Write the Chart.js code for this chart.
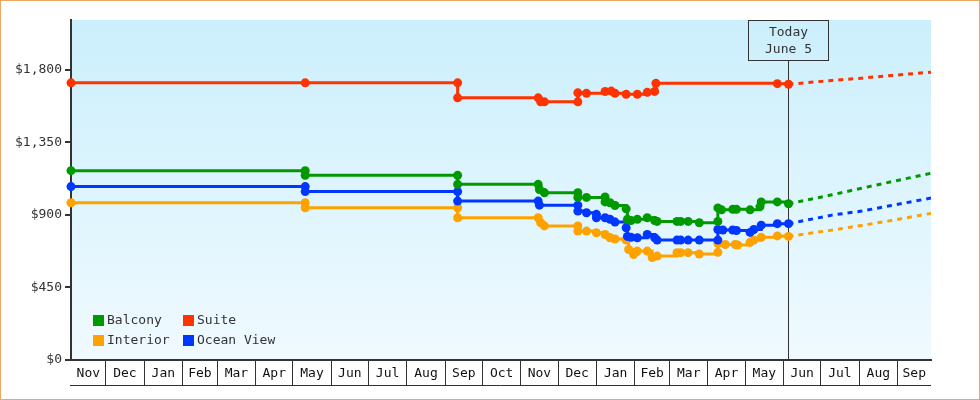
<!DOCTYPE html>
<html>
<head>
<meta charset="utf-8">
<script src="https://cdn.jsdelivr.net/npm/chart.js@4.4.0/dist/chart.umd.min.js"></script>
<style>
    html, body { margin: 0; padding: 0; background: #fff; }
    canvas { display: block; }
</style>
</head>
<body>
<canvas id="chart" width="980" height="400"></canvas>
<script>
const X_MIN = '2021-11-03'
const X_MAX = '2023-09-28'
const TODAY = '2023-06-05'
const TODAY_LABEL = ['Today', 'June 5']
const MONTH_NAMES = ['Jan', 'Feb', 'Mar', 'Apr', 'May', 'Jun', 'Jul', 'Aug', 'Sep', 'Oct', 'Nov', 'Dec']
const Y_TICKS = [0, 450, 900, 1350, 1800]
const Y_MAX = 2110

const suiteDates = ['2021-11-03', '2022-05-11', '2022-09-11', '2022-09-11', '2022-11-15', '2022-11-17', '2022-11-20', '2022-12-17', '2022-12-17', '2022-12-24', '2023-01-08', '2023-01-13', '2023-01-16', '2023-01-25', '2023-02-03', '2023-02-11', '2023-02-17', '2023-02-18', '2023-05-27', '2023-06-05']
const suitePrices = [1720, 1720, 1720, 1627, 1627, 1602, 1602, 1602, 1658, 1655, 1666, 1669, 1655, 1649, 1649, 1661, 1667, 1717, 1715, 1711]

const balconyDates = ['2021-11-03', '2022-05-11', '2022-05-11', '2022-09-11', '2022-09-11', '2022-11-15', '2022-11-16', '2022-11-20', '2022-12-17', '2022-12-17', '2022-12-24', '2023-01-08', '2023-01-08', '2023-01-12', '2023-01-16', '2023-01-25', '2023-01-26', '2023-01-29', '2023-02-03', '2023-02-11', '2023-02-17', '2023-02-19', '2023-03-07', '2023-03-10', '2023-03-16', '2023-03-25', '2023-04-09', '2023-04-09', '2023-04-12', '2023-04-21', '2023-04-24', '2023-05-05', '2023-05-13', '2023-05-14', '2023-05-27', '2023-06-05']
const balconyPrices = [1175, 1175, 1146, 1146, 1090, 1090, 1058, 1038, 1038, 1009, 1009, 1012, 981, 976, 959, 938, 873, 866, 873, 883, 866, 860, 860, 860, 860, 852, 860, 944, 932, 935, 935, 932, 952, 981, 981, 970]

const oceanDates = ['2021-11-03', '2022-05-11', '2022-05-11', '2022-09-11', '2022-09-11', '2022-11-15', '2022-11-16', '2022-12-17', '2022-12-17', '2022-12-24', '2023-01-01', '2023-01-01', '2023-01-08', '2023-01-12', '2023-01-16', '2023-01-25', '2023-01-26', '2023-01-29', '2023-02-03', '2023-02-11', '2023-02-17', '2023-02-19', '2023-03-07', '2023-03-10', '2023-03-16', '2023-03-25', '2023-04-09', '2023-04-09', '2023-04-13', '2023-04-21', '2023-04-24', '2023-05-05', '2023-05-08', '2023-05-14', '2023-05-27', '2023-06-05']
const oceanPrices = [1076, 1076, 1045, 1045, 986, 986, 961, 961, 924, 914, 904, 883, 883, 873, 856, 821, 767, 761, 759, 779, 759, 744, 744, 744, 744, 744, 744, 810, 807, 807, 804, 792, 810, 837, 846, 846]

const interiorDates = ['2021-11-03', '2022-05-11', '2022-05-11', '2022-09-11', '2022-09-11', '2022-11-15', '2022-11-17', '2022-11-20', '2022-12-17', '2022-12-17', '2022-12-24', '2023-01-01', '2023-01-08', '2023-01-12', '2023-01-16', '2023-01-25', '2023-01-27', '2023-01-31', '2023-02-03', '2023-02-11', '2023-02-15', '2023-02-19', '2023-03-07', '2023-03-10', '2023-03-16', '2023-03-25', '2023-04-09', '2023-04-09', '2023-04-15', '2023-04-23', '2023-04-25', '2023-05-05', '2023-05-08', '2023-05-14', '2023-05-27', '2023-06-05']
const interiorPrices = [976, 976, 945, 945, 883, 883, 852, 832, 832, 800, 800, 790, 779, 759, 751, 745, 686, 655, 676, 676, 636, 645, 666, 666, 666, 658, 668, 723, 717, 717, 714, 730, 744, 761, 770, 767]

// projected prices after today
const forecastDates = ['2023-06-05', '2023-07-10', '2023-08-03', '2023-08-27', '2023-09-28']
const suiteForecast = [1711, 1735, 1749, 1766, 1786]
const balconyForecast = [970, 1025, 1066, 1106, 1159]
const oceanForecast = [846, 899, 924, 959, 1005]
const interiorForecast = [767, 806, 835, 866, 910]

const series = [
    { label: 'Suite', color: '#ff3300', dates: suiteDates, prices: suitePrices, forecast: suiteForecast },
    { label: 'Balcony', color: '#009a00', dates: balconyDates, prices: balconyPrices, forecast: balconyForecast },
    { label: 'Ocean View', color: '#0037ff', dates: oceanDates, prices: oceanPrices, forecast: oceanForecast },
    { label: 'Interior', color: '#ffa200', dates: interiorDates, prices: interiorPrices, forecast: interiorForecast }
]
const LEGEND_ORDER = ['Balcony', 'Suite', 'Interior', 'Ocean View']

const BASE = (() => { const [y, m, d] = X_MIN.split('-').map(Number); return Date.UTC(y, m - 1, d) })()
const daysUTC = (y, m, d) => (Date.UTC(y, m, d) - BASE) / 864e5
const dayOf = s => { const [y, m, d] = s.split('-').map(Number); return daysUTC(y, m - 1, d) }

function monthTicks() {
    const lo = dayOf(X_MIN), hi = dayOf(X_MAX)
    const out = []
    let [y, m] = X_MIN.split('-').map(Number)
    m -= 1
    while (true) {
        const start = Math.max(lo, daysUTC(y, m, 1))
        const end = Math.min(hi, daysUTC(y, m + 1, 1))
        if (start >= hi) break
        if (start > lo) out.push({ value: start, boundary: true })
        out.push({ value: (start + end) / 2, name: MONTH_NAMES[m] })
        m++
        if (m === 12) { m = 0; y++ }
    }
    return out
}

const FONT = '"DejaVu Sans Mono", monospace'
Chart.defaults.font.family = FONT
Chart.defaults.font.size = 13
Chart.defaults.color = '#222'

const datasets = []
series.forEach(s => {
    datasets.push({
        label: s.label,
        data: s.dates.map((d, i) => ({ x: dayOf(d), y: s.prices[i] })),
        stepped: true,
        borderColor: s.color,
        backgroundColor: s.color,
        borderWidth: 3,
        pointRadius: 4.5,
        pointHoverRadius: 4.5,
        pointBorderWidth: 0,
        clip: false
    })
    datasets.push({
        label: s.label + ' forecast',
        data: forecastDates.map((d, i) => ({ x: dayOf(d), y: s.forecast[i] })),
        borderColor: s.color,
        borderWidth: 3,
        borderDash: [5, 5],
        pointRadius: 0
    })
})

const frame = {
    id: 'frame',
    beforeDraw(chart) {
        const { ctx, chartArea: a } = chart
        const g = ctx.createLinearGradient(0, a.top, 0, a.bottom)
        g.addColorStop(0, '#cbeffc')
        g.addColorStop(1, '#f0faff')
        ctx.save()
        ctx.fillStyle = g
        ctx.fillRect(a.left, a.top, a.right - a.left, a.bottom - a.top)
        ctx.restore()
    },
    afterDraw(chart) {
        const { ctx, width, height } = chart
        const x = chart.scales.x
        ctx.save()
        // line under the month boxes
        ctx.strokeStyle = '#333'
        ctx.lineWidth = 1
        ctx.beginPath()
        ctx.moveTo(x.left - 1, x.top + 25.5)
        ctx.lineTo(x.right, x.top + 25.5)
        ctx.stroke()
        // outer border
        ctx.strokeStyle = '#e9a95f'
        ctx.strokeRect(0.5, 0.5, width - 1, height - 1)
        ctx.restore()
    }
}

const todayMarker = {
    id: 'todayMarker',
    beforeDatasetsDraw(chart) {
        const { ctx, chartArea: a } = chart
        const x = Math.round(chart.scales.x.getPixelForValue(dayOf(TODAY))) + 0.5
        const top = a.top + 0.5
        ctx.save()
        ctx.strokeStyle = '#333'
        ctx.lineWidth = 1
        ctx.strokeRect(x - 40, top, 80, 40)
        ctx.beginPath()
        ctx.moveTo(x, top + 40)
        ctx.lineTo(x, a.bottom)
        ctx.stroke()
        ctx.fillStyle = '#333'
        ctx.font = '13px ' + FONT
        ctx.textAlign = 'center'
        ctx.textBaseline = 'middle'
        ctx.fillText(TODAY_LABEL[0], x, a.top + 13)
        ctx.fillText(TODAY_LABEL[1], x, a.top + 30)
        ctx.restore()
    }
}

const boxLegend = {
    id: 'boxLegend',
    afterDraw(chart) {
        const { ctx, chartArea: a } = chart
        ctx.save()
        ctx.font = '13px ' + FONT
        ctx.textBaseline = 'middle'
        LEGEND_ORDER.forEach((name, i) => {
            const ds = chart.data.datasets.find(d => d.label === name)
            const x = a.left + 22 + (i % 2) * 90
            const y = a.bottom - 45 + Math.floor(i / 2) * 20
            ctx.fillStyle = ds.borderColor
            ctx.fillRect(x, y, 11, 11)
            ctx.fillStyle = '#333'
            ctx.fillText(name, x + 14, y + 6)
        })
        ctx.restore()
    }
}

new Chart(document.getElementById('chart'), {
    type: 'line',
    data: { datasets },
    options: {
        responsive: false,
        animation: false,
        events: [],
        layout: { padding: { top: 20, right: 49, left: 0, bottom: 0 } },
        scales: {
            x: {
                type: 'linear',
                min: dayOf(X_MIN),
                max: dayOf(X_MAX),
                afterBuildTicks: scale => { scale.ticks = monthTicks() },
                afterFit: scale => { scale.height = 40 },
                border: { display: true, color: '#333', width: 2 },
                grid: {
                    drawOnChartArea: false,
                    tickLength: 25,
                    lineWidth: 1,
                    color: c => (c.tick && c.tick.boundary ? '#333' : 'rgba(0,0,0,0)')
                },
                ticks: {
                    autoSkip: false,
                    maxRotation: 0,
                    padding: -19,
                    color: '#111',
                    callback: (v, i, ticks) => ticks[i].name || ''
                }
            },
            y: {
                min: 0,
                max: Y_MAX,
                afterBuildTicks: scale => { scale.ticks = Y_TICKS.map(v => ({ value: v })) },
                afterFit: scale => { scale.width = 71 },
                border: { display: true, color: '#333', width: 2 },
                grid: { drawOnChartArea: false, tickLength: 6, lineWidth: 2, color: '#333' },
                ticks: {
                    padding: 3,
                    color: '#333',
                    callback: v => '$' + v.toLocaleString('en-US')
                }
            }
        },
        plugins: {
            legend: { display: false },
            tooltip: { enabled: false }
        }
    },
    plugins: [frame, todayMarker, boxLegend]
})
</script>
</body>
</html>
